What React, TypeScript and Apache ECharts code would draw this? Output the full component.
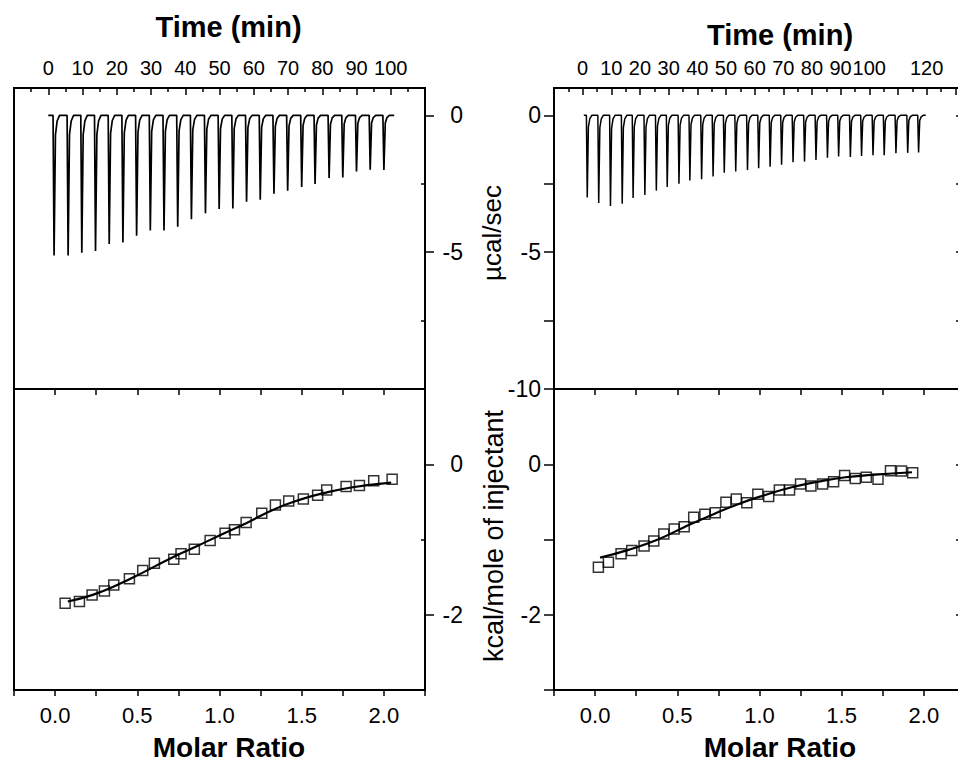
import React, { useEffect, useRef } from "react";
import * as echarts from "echarts";

const FONT = '"Liberation Sans", Arial, Helvetica, sans-serif';

// ---- Left panel: raw heat (µcal/sec vs time) ----
const leftInjTimes = [1.5, 5.6, 9.6, 13.6, 17.6, 21.6, 25.6, 29.6, 33.6, 37.6, 41.6, 45.7, 49.7, 53.7, 57.7, 61.7, 65.7, 69.7, 73.8, 77.7, 81.8, 85.8, 89.8, 93.8, 97.8];
const leftPeaks = [5.12, 5.12, 5.02, 4.96, 4.7, 4.65, 4.4, 4.21, 4.21, 4.07, 3.8, 3.58, 3.42, 3.4, 3.16, 3.08, 2.86, 2.75, 2.62, 2.51, 2.29, 2.27, 2.05, 1.99, 2.0];
const leftBaselineRange = [0, 101];

// ---- Right panel: raw heat ----
const rightInjTimes = [1.4, 5.4, 9.5, 13.6, 17.4, 21.5, 25.5, 29.3, 33.4, 37.2, 41.3, 45.3, 49.2, 53.2, 57.3, 61.2, 65.2, 69.2, 73.2, 77.2, 81.2, 85.2, 89.1, 93.2, 97.1, 101.1, 105.0, 109.1, 113.2, 117.0];
const rightPeaks = [3.0, 3.2, 3.31, 3.23, 3.02, 2.91, 2.75, 2.62, 2.5, 2.38, 2.33, 2.23, 2.1, 2.05, 2.0, 1.93, 1.88, 1.8, 1.71, 1.69, 1.63, 1.55, 1.5, 1.52, 1.48, 1.46, 1.46, 1.38, 1.37, 1.36];
const rightBaselineRange = [0.4, 119.7];

// ---- Left panel: integrated heats ----
const leftRatio = [0.061, 0.148, 0.225, 0.3, 0.357, 0.452, 0.533, 0.604, 0.722, 0.766, 0.847, 0.943, 1.034, 1.091, 1.162, 1.257, 1.34, 1.421, 1.51, 1.597, 1.652, 1.77, 1.851, 1.938, 2.05];
const leftHeat = [-1.846, -1.824, -1.736, -1.683, -1.603, -1.523, -1.413, -1.315, -1.262, -1.191, -1.129, -1.014, -0.916, -0.872, -0.775, -0.651, -0.54, -0.487, -0.461, -0.412, -0.341, -0.297, -0.284, -0.218, -0.199];
const leftFitX = [0.077, 0.229, 0.371, 0.533, 0.695, 0.858, 1.019, 1.162, 1.324, 1.486, 1.648, 1.81, 2.044];
const leftFitY = [-1.824, -1.736, -1.612, -1.44, -1.258, -1.094, -0.926, -0.784, -0.607, -0.474, -0.377, -0.306, -0.244];

// ---- Right panel: integrated heats ----
const rightRatio = [0.02, 0.081, 0.158, 0.223, 0.298, 0.357, 0.418, 0.481, 0.542, 0.6, 0.668, 0.731, 0.796, 0.859, 0.923, 0.99, 1.056, 1.121, 1.183, 1.25, 1.313, 1.384, 1.451, 1.518, 1.583, 1.65, 1.721, 1.797, 1.864, 1.932];
const rightHeat = [-1.368, -1.301, -1.191, -1.147, -1.085, -1.019, -0.926, -0.859, -0.829, -0.704, -0.664, -0.643, -0.505, -0.461, -0.51, -0.398, -0.43, -0.341, -0.341, -0.262, -0.288, -0.262, -0.231, -0.151, -0.191, -0.173, -0.199, -0.085, -0.089, -0.112];
const rightFitX = [0.03, 0.203, 0.386, 0.548, 0.71, 0.873, 1.035, 1.197, 1.36, 1.523, 1.685, 1.928];
const rightFitY = [-1.24, -1.138, -0.996, -0.829, -0.673, -0.527, -0.408, -0.305, -0.231, -0.173, -0.142, -0.106];

// ---- Tick values / labels ----
const leftTimeLabels = [0, 10, 20, 30, 40, 50, 60, 70, 80, 90, 100];
const leftTimeMajorTicks = [-10, 0, 10, 20, 30, 40, 50, 60, 70, 80, 90, 100, 110];
const leftTimeMinorTicks = [-5, 5, 15, 25, 35, 45, 55, 65, 75, 85, 95, 105];
const rightTimeLabels = [0, 10, 20, 30, 40, 50, 60, 70, 80, 90, 100, 120];
const rightTimeMajorTicks = [-10, 0, 10, 20, 30, 40, 50, 60, 70, 80, 90, 100, 110, 120, 130];
const rightTimeMinorTicks = [-5, 5, 15, 25, 35, 45, 55, 65, 75, 85, 95, 105, 115, 125];
const ratioLabels = [0, 0.5, 1.0, 1.5, 2.0];
const ratioTicks = [-0.25, 0, 0.25, 0.5, 0.75, 1.0, 1.25, 1.5, 1.75, 2.0, 2.25];
const powerLabelsLeft = [0, -5];
const powerLabelsRight = [0, -5, -10];
const powerMinor = [-2.5, -7.5];
const heatLabels = [0, -2];
const heatMinor = [-1];

function buildTrace(times: number[], peaks: number[], range: number[]) {
  const pts: number[][] = [[range[0], 0]];
  times.forEach((t, i) => {
    const p = -peaks[i];
    pts.push([t - 0.1, 0], [t + 0.2, p], [t + 0.6, p * 0.14], [t + 1.1, p * 0.04], [t + 1.8, 0]);
  });
  pts.push([range[1], 0]);
  return pts;
}

const pairs = (xs: number[], ys: number[]) => xs.map((x, i) => [x, ys[i]]);

function axis(o: any) {
  const {
    gridIndex, position, min, max, labels, ticks, inside, tickLen, fontSize, margin, align, fmt,
  } = o;
  return {
    type: "value",
    gridIndex,
    position,
    min,
    max,
    axisLine: { show: false, onZero: false },
    splitLine: { show: false },
    axisTick: ticks
      ? { show: true, inside: !!inside, length: tickLen || 6, customValues: ticks, lineStyle: { color: "#000", width: 1.5 } }
      : { show: false },
    axisLabel: labels
      ? {
          show: true,
          customValues: labels,
          fontSize: fontSize || 21,
          fontFamily: FONT,
          color: "#000",
          margin: margin ?? 8,
          ...(align ? { align } : {}),
          formatter: fmt || ((v: number) => String(v)),
        }
      : { show: false },
  };
}

export default function App() {
  const ref = useRef<HTMLDivElement>(null);
  useEffect(() => {
    if (!ref.current) return;
    const chart = echarts.init(ref.current, undefined, { renderer: "svg" });
    const gridStyle = { show: true, borderColor: "#000", borderWidth: 2, backgroundColor: "transparent" };
    const ratioFmt = (v: number) => v.toFixed(1);
    const titleStyle = (text: string, size: number, bold: boolean) => ({
      text, fontSize: size, fontWeight: bold ? "bold" : "normal", fontFamily: FONT, fill: "#000",
      align: "center", verticalAlign: "middle", textAlign: "center", textVerticalAlign: "middle",
    });
    const option: any = {
      animation: false,
      backgroundColor: "#fff",
      grid: [
        { left: 14, top: 88, width: 411, height: 301, ...gridStyle },
        { left: 14, top: 389, width: 411, height: 301, ...gridStyle },
        { left: 554, top: 88, width: 407, height: 301, ...gridStyle },
        { left: 554, top: 389, width: 407, height: 301, ...gridStyle },
      ],
      xAxis: [
        axis({ gridIndex: 0, position: "top", min: -10, max: 110, labels: leftTimeLabels, ticks: leftTimeMajorTicks, inside: true, tickLen: 7, fontSize: 20, margin: 10 }),
        axis({ gridIndex: 0, position: "top", min: -10, max: 110, ticks: leftTimeMinorTicks, inside: true, tickLen: 4 }),
        axis({ gridIndex: 1, position: "bottom", min: -0.25, max: 2.25, labels: ratioLabels, ticks: ratioTicks, inside: false, tickLen: 6, fontSize: 22, margin: 14, fmt: ratioFmt }),
        axis({ gridIndex: 1, position: "top", min: -0.25, max: 2.25, ticks: ratioTicks, inside: true, tickLen: 6 }),
        axis({ gridIndex: 2, position: "top", min: -10, max: 132, labels: rightTimeLabels, ticks: rightTimeMajorTicks, inside: true, tickLen: 7, fontSize: 20, margin: 10 }),
        axis({ gridIndex: 2, position: "top", min: -10, max: 132, ticks: rightTimeMinorTicks, inside: true, tickLen: 4 }),
        axis({ gridIndex: 3, position: "bottom", min: -0.25, max: 2.226, labels: ratioLabels, ticks: ratioTicks.slice(0, 10), inside: false, tickLen: 6, fontSize: 22, margin: 14, fmt: ratioFmt }),
        axis({ gridIndex: 3, position: "top", min: -0.25, max: 2.226, ticks: ratioTicks.slice(0, 10), inside: true, tickLen: 6 }),
      ],
      yAxis: [
        axis({ gridIndex: 0, position: "right", min: -10, max: 1, labels: powerLabelsLeft, ticks: powerLabelsLeft, inside: false, tickLen: 9, fontSize: 23, margin: 38, align: "right" }),
        axis({ gridIndex: 0, position: "right", min: -10, max: 1, ticks: powerMinor, inside: true, tickLen: 4 }),
        axis({ gridIndex: 1, position: "right", min: -3, max: 1, labels: heatLabels, ticks: heatLabels, inside: false, tickLen: 9, fontSize: 23, margin: 38, align: "right" }),
        axis({ gridIndex: 1, position: "right", min: -3, max: 1, ticks: heatMinor, inside: true, tickLen: 4 }),
        axis({ gridIndex: 2, position: "left", min: -10, max: 1, labels: powerLabelsRight, ticks: [0, -2.5, -5, -7.5, -10], inside: false, tickLen: 10, fontSize: 23, margin: 13 }),
        axis({ gridIndex: 2, position: "right", min: -10, max: 1, ticks: [0, -2.5, -5, -7.5], inside: true, tickLen: 5 }),
        axis({ gridIndex: 3, position: "left", min: -3, max: 1, labels: heatLabels, ticks: [0, -1, -2, -3], inside: false, tickLen: 10, fontSize: 23, margin: 13 }),
        axis({ gridIndex: 3, position: "right", min: -3, max: 1, ticks: [0, -1, -2], inside: true, tickLen: 5 }),
      ],
      series: [
        {
          type: "line", xAxisIndex: 0, yAxisIndex: 0, data: buildTrace(leftInjTimes, leftPeaks, leftBaselineRange),
          symbol: "none", lineStyle: { color: "#000", width: 1.7 }, silent: true,
        },
        {
          type: "line", xAxisIndex: 4, yAxisIndex: 4, data: buildTrace(rightInjTimes, rightPeaks, rightBaselineRange),
          symbol: "none", lineStyle: { color: "#000", width: 1.5 }, silent: true,
        },
        {
          type: "line", xAxisIndex: 2, yAxisIndex: 2, data: pairs(leftFitX, leftFitY), smooth: true,
          symbol: "none", lineStyle: { color: "#000", width: 2.2 },
        },
        {
          type: "scatter", xAxisIndex: 2, yAxisIndex: 2, data: pairs(leftRatio, leftHeat), symbol: "rect", symbolSize: 10,
          itemStyle: { color: "rgba(255,255,255,0)", borderColor: "#000", borderWidth: 1.5 },
        },
        {
          type: "line", xAxisIndex: 6, yAxisIndex: 6, data: pairs(rightFitX, rightFitY), smooth: true,
          symbol: "none", lineStyle: { color: "#000", width: 2.2 },
        },
        {
          type: "scatter", xAxisIndex: 6, yAxisIndex: 6, data: pairs(rightRatio, rightHeat), symbol: "rect", symbolSize: 10,
          itemStyle: { color: "rgba(255,255,255,0)", borderColor: "#000", borderWidth: 1.5 },
        },
      ],
      graphic: [
        { type: "text", x: 228.5, y: 26.5, style: titleStyle("Time (min)", 29, true) },
        { type: "text", x: 780, y: 35, style: titleStyle("Time (min)", 29, true) },
        { type: "text", x: 229, y: 747, style: titleStyle("Molar Ratio", 28, true) },
        { type: "text", x: 780, y: 747, style: titleStyle("Molar Ratio", 28, true) },
        { type: "text", x: 492, y: 233, rotation: Math.PI / 2, style: titleStyle("µcal/sec", 26, false) },
        { type: "text", x: 494, y: 536, rotation: Math.PI / 2, style: titleStyle("kcal/mole of injectant", 27, false) },
      ],
    };
    chart.setOption(option);
    return () => chart.dispose();
  }, []);
  return (
    <div style={{ position: "absolute", left: 0, top: 0, width: 958, height: 765, overflow: "hidden", background: "#fff" }}>
      <div ref={ref} style={{ width: 975, height: 765 }} />
    </div>
  );
}
